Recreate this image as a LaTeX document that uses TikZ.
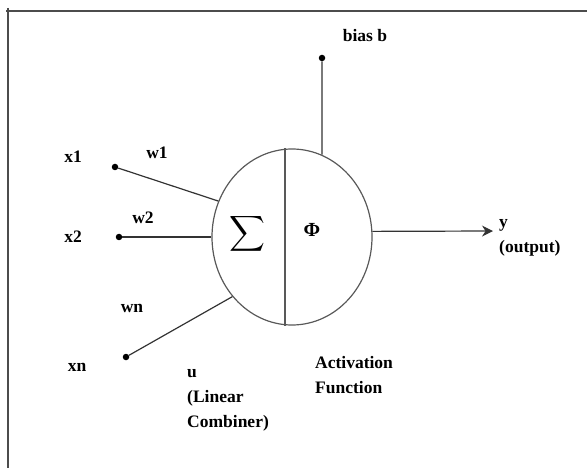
\documentclass[tikz,border=0pt]{standalone}
\usepackage{amsmath}
\usepackage{fontspec}
\setmainfont{Liberation Serif}
\usetikzlibrary{arrows.meta, shapes.geometric}

\begin{document}
\begin{tikzpicture}[
        x=1pt, y=-1pt,
        lbl/.style={font=\fontsize{17.5}{25}\selectfont\bfseries, inner sep=0pt},
        dot/.style={circle, fill=black, inner sep=0pt, minimum size=6.5pt},
        wire/.style={line width=1.2pt, draw=black!80},
        cell/.style={ellipse, draw=black!65, line width=1.2pt,
                     minimum width=160pt, minimum height=176pt, inner sep=0pt},
        >={Stealth[length=11pt, width=11pt]}
    ]
        \useasboundingbox (0,0) rectangle (587,468);
        % frame
        \draw[line width=1.3pt, black!70] (6,11) -- (587,11);
        \draw[line width=1.3pt, black!70] (8,8) -- (8,468);

        % neuron
        \node[cell] (neuron) at (292,237) {};
        \draw[wire, draw=black!65] ([xshift=-7pt]neuron.north) -- ([xshift=-7pt]neuron.south);
        \node[font=\fontsize{26}{30}\selectfont] (sigma) at (247,234) {$\displaystyle\sum$};
        \node[lbl, font=\fontsize{20}{25}\selectfont\bfseries] (phi) at (312,230) {Φ};

        % inputs
        \node[dot] (x1) at (115,167) {};
        \node[dot] (x2) at (119,237) {};
        \node[dot] (xn) at (126,357) {};
        \draw[wire] (x1) -- (neuron.154);
        \draw[wire] (x2) -- (neuron.180);
        \draw[wire] (xn) -- (neuron.225);

        % bias
        \node[dot] (bias) at (322,58) {};
        \draw[wire] (bias) -- (neuron.70);

        % output
        \coordinate (yout) at (493,231);
        \draw[wire, ->] (neuron.4) -- (yout);

        % labels
        \node[lbl] (lx1) at (73,157) {x1};
        \node[lbl] (lx2) at (73,237) {x2};
        \node[lbl] (lxn) at (77,367) {xn};
        \node[lbl] (lw1) at (157,153) {w1};
        \node[lbl] (lw2) at (143,218) {w2};
        \node[lbl] (lwn) at (132,308) {wn};
        \node[lbl] (lbias) at (365,36) {bias b};
        \node[lbl, anchor=west, align=left] (ly) at (499,238) {y\\(output)};
        \node[lbl, anchor=west, align=left] (lu) at (187,400) {u\\(Linear\\Combiner)};
        \node[lbl, anchor=west, align=left] (lact) at (315,375) {Activation\\Function};
    \end{tikzpicture}
\end{document}
